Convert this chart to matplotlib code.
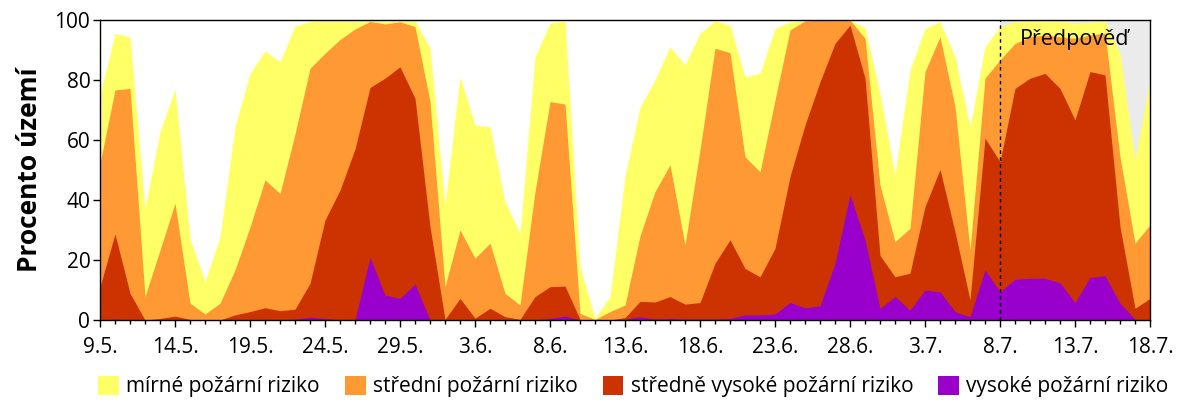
import matplotlib
matplotlib.use('Agg')
import matplotlib.pyplot as plt
from matplotlib.patches import Patch
import numpy as np

plt.rcParams['font.family'] = ['Open Sans', 'DejaVu Sans']

# den od 9.5. (0) do 18.7. (70)
dny = np.arange(71)
popisky = ['9.5.', '14.5.', '19.5.', '24.5.', '29.5.', '3.6.', '8.6.', '13.6.',
           '18.6.', '23.6.', '28.6.', '3.7.', '8.7.', '13.7.', '18.7.']
zacatek_predpovedi = 60

# kumulativni podil uzemi (%) s rizikem alespon dane urovne
alespon_mirne = [75, 95.5, 94.4, 37.2, 62.8, 77, 27.2, 12.8, 27.8, 64.4,
                 82.2, 89.7, 86.1, 98, 99.5, 100, 100, 100, 100, 99.5,
                 99.6, 99.8, 90.6, 38.3, 81.1, 65, 64.4, 39.4, 28.9, 87.8,
                 98.9, 99.7, 17.8, 0.6, 7.8, 48, 71, 80, 91.1, 85,
                 95.6, 99.7, 98.3, 81.1, 82.2, 97.2, 99.4, 100, 100, 100,
                 100, 97.5, 75.6, 48.3, 83.3, 97.2, 99.4, 87.8, 64.4, 91.1,
                 97.8, 99.4, 99.7, 99.7, 99.7, 98.9, 99.2, 99.7, 88.9, 53.3,
                 80]
alespon_stredni = [52.2, 76.7, 77.2, 7.8, 23.3, 38.9, 5.6, 2, 5.6, 16.7,
                   31, 46.7, 42.2, 62, 83.9, 88.9, 93.5, 97, 99.5, 98.7,
                   99.4, 97.8, 72.8, 11.1, 30, 20.6, 25.6, 8.9, 5, 42.8,
                   72.8, 72, 2.2, 0.2, 2.8, 5, 28, 42.8, 51.7, 25,
                   56.7, 90.6, 89.1, 54.4, 49.4, 73.3, 96.7, 99.7, 100, 100,
                   100, 93.9, 45, 26.1, 30.6, 82.8, 94.4, 71.1, 23.3, 80.6,
                   86.7, 92.2, 94.4, 95, 94.4, 93.9, 95, 95.6, 54.4, 25.6,
                   31.7]
alespon_str_vysoke = [11.1, 28.7, 8.9, 0, 0.5, 1.3, 0.2, 0, 0, 1.7,
                      2.8, 4.1, 3.1, 3.6, 12.2, 33.3, 43.3, 57, 77.5, 80.6,
                      84.4, 73.9, 31.1, 0.2, 7.2, 0.6, 3.9, 1.1, 0.2, 7.8,
                      11.1, 11.3, 0.2, 0, 0, 0.8, 6.2, 6, 7.8, 5.3,
                      5.8, 18.9, 26.7, 17.2, 14.4, 23.9, 47.8, 65, 79.4, 92.2,
                      98.3, 80.6, 21.5, 14.4, 15.6, 37.8, 50.2, 29.4, 6.7, 60.6,
                      52.8, 77.2, 80.6, 82.2, 77.2, 66.7, 82.8, 81.7, 31.1, 3.9,
                      7.2]
vysoke = [0, 0.3, 0, 0, 0, 0, 0, 0, 0, 0,
          0, 0, 0, 0.3, 0.9, 0.5, 0, 0, 20.9, 8.3,
          7.2, 12, 0, 0, 0, 0, 0, 0, 0, 0,
          0.5, 1.3, 0, 0, 0, 0.2, 1.1, 0.3, 0.5, 0.3,
          0.3, 0.3, 0.5, 1.7, 1.7, 2, 5.8, 4.1, 4.7, 18.9,
          41.7, 26.7, 3.9, 7.8, 3.3, 10, 9.4, 2.8, 1.1, 16.7,
          9.4, 13.6, 13.9, 13.9, 12.4, 5.8, 14.2, 14.7, 5.6, 0.2,
          0]

nazvy = ['mírné požární riziko', 'střední požární riziko',
         'středně vysoké požární riziko', 'vysoké požární riziko']
barvy = ['#FFFF66', '#FF9933', '#CC3300', '#9900CC']
vrstvy = [alespon_mirne, alespon_stredni, alespon_str_vysoke, vysoke]

fig = plt.figure(figsize=(12, 4), dpi=100)
ax = fig.add_axes([100 / 1200, 80 / 400, 1050 / 1200, 300 / 400])

ax.axvspan(zacatek_predpovedi, dny[-1], color='#EBEBEB', lw=0, zorder=0)
for hodnoty, barva in zip(vrstvy, barvy):
    ax.fill_between(dny, 0, hodnoty, color=barva, lw=0, zorder=1)

ax.axvline(zacatek_predpovedi, color='black', lw=1, ls=(0, (2.5, 2.5)), zorder=3)
ax.text(zacatek_predpovedi + 1.3, 93.5, 'Předpověď', fontsize=15.5, va='center', ha='left', zorder=4)

ax.set_xlim(dny[0], dny[-1])
ax.set_ylim(0, 100)
ax.set_xticks(dny[::5])
ax.set_xticklabels(popisky)
ax.set_xticks(dny, minor=True)
ax.set_yticks(range(0, 101, 20))
ax.tick_params(axis='both', which='major', labelsize=15, length=5, width=1, direction='out')
ax.tick_params(axis='y', which='major', pad=2)
ax.tick_params(axis='x', which='major', pad=7)
ax.tick_params(axis='x', which='minor', length=3, width=1)
for s in ax.spines.values():
    s.set_linewidth(1)
    s.set_zorder(5)

ax.set_ylabel('Procento území', fontsize=19, fontweight='bold', labelpad=8)

handles = [Patch(facecolor=b, edgecolor='none') for b in barvy]
ax.legend(handles, nazvy, loc='center', bbox_to_anchor=(0.508, -0.222), ncol=4,
          frameon=False, fontsize=15, handlelength=1.0, handleheight=1.0,
          handletextpad=0.35, columnspacing=1.2, borderaxespad=0)

fig.savefig('out.png', dpi=100)
